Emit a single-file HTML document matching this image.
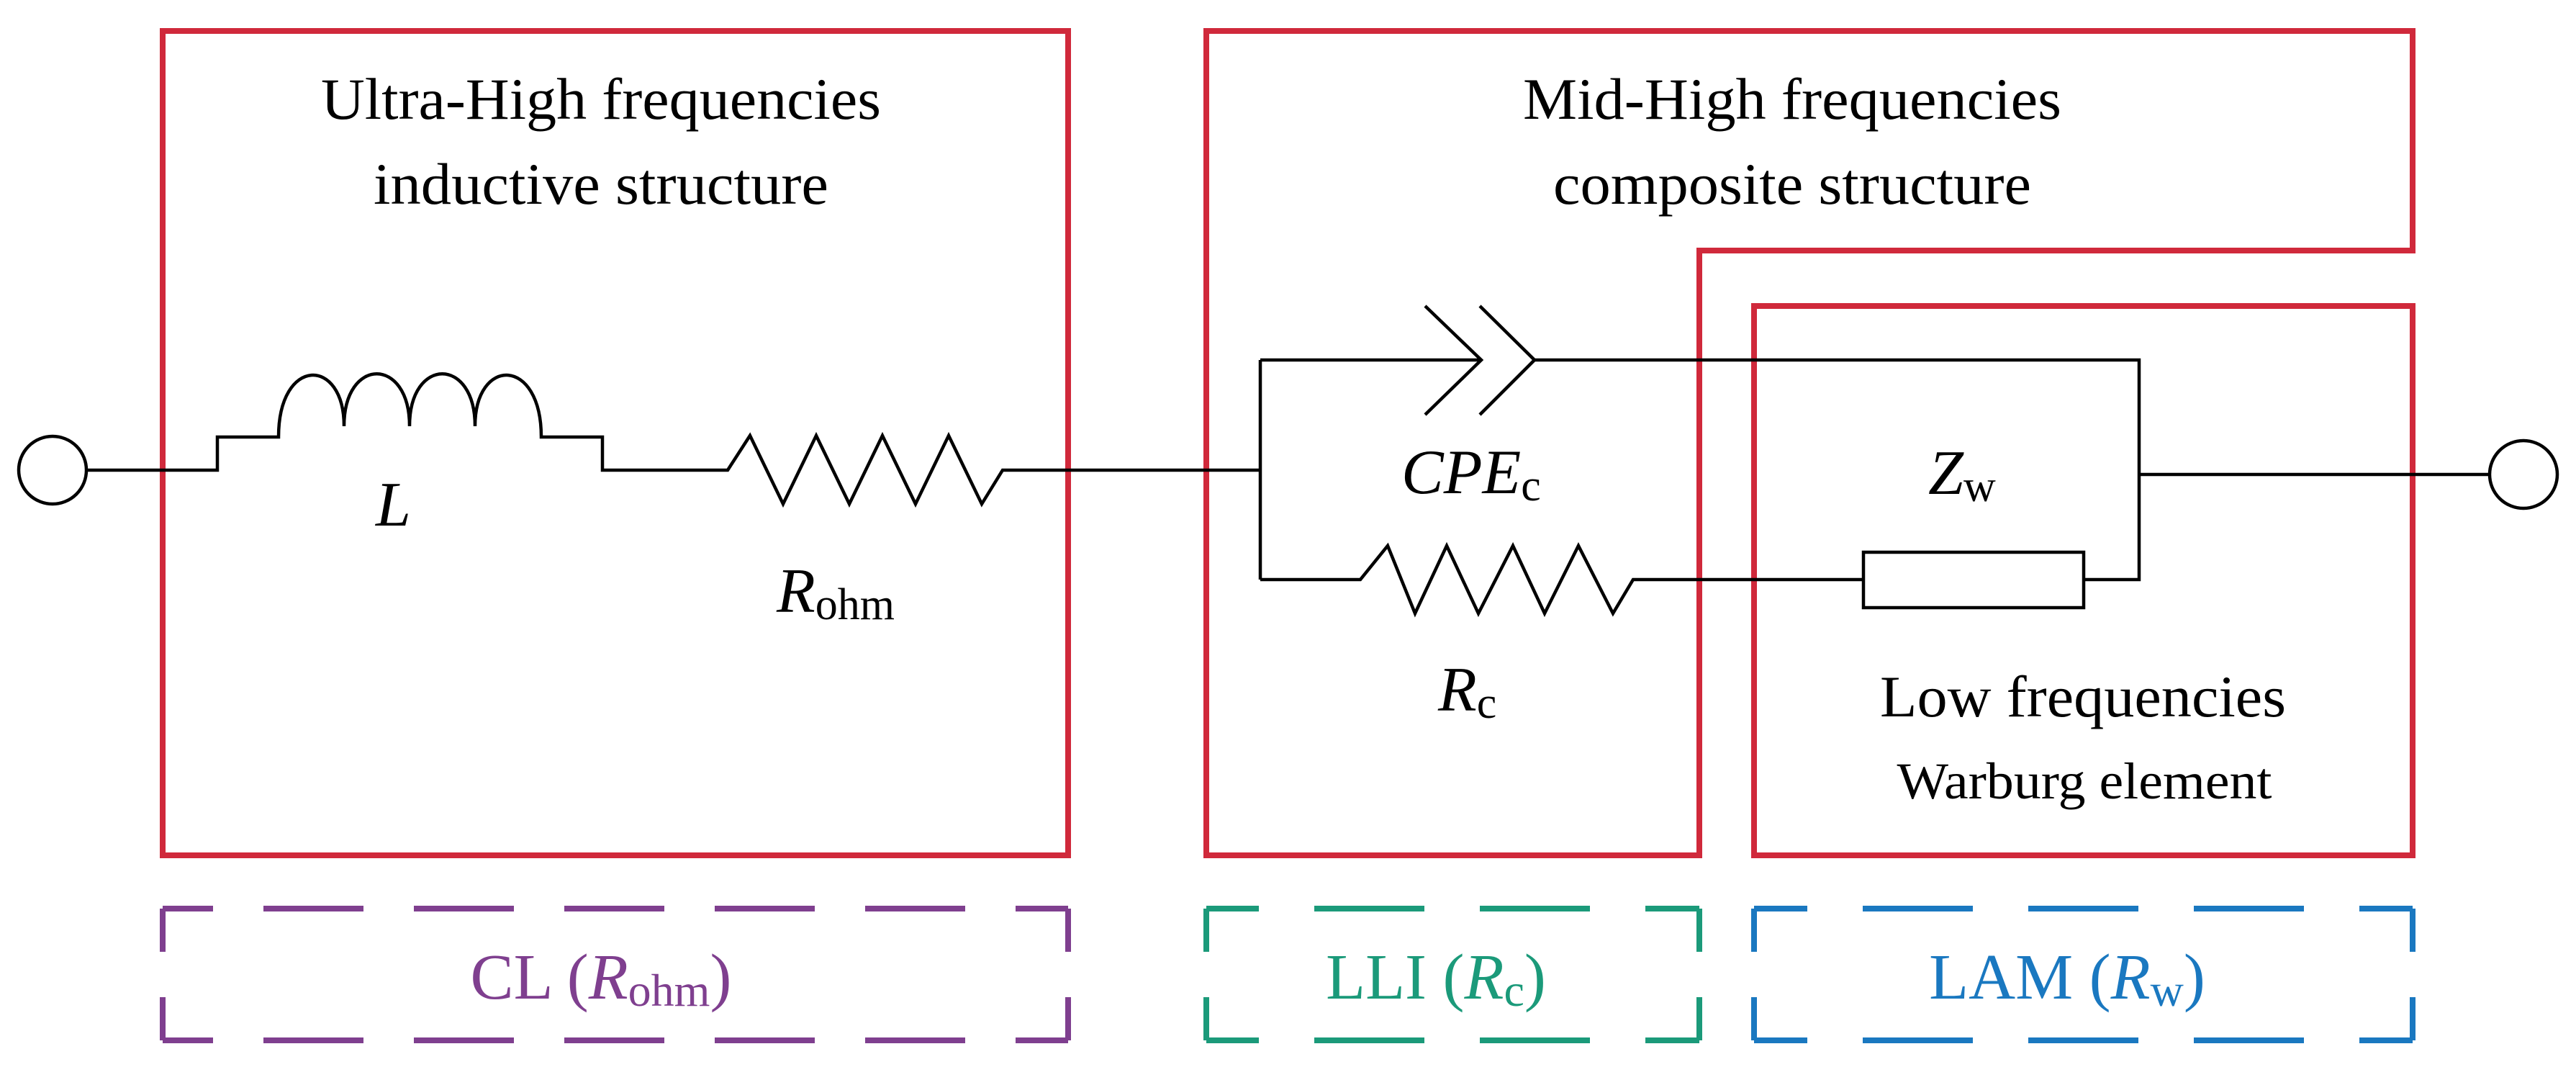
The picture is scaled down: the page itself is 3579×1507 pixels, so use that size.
<!DOCTYPE html>
<html><head><meta charset="utf-8"><style>
html,body{margin:0;padding:0;background:#fff;}
svg{display:block;}
text{font-family:"Liberation Serif",serif;}
</style></head><body>
<svg width="3579" height="1507" viewBox="0 0 3579 1507" xmlns="http://www.w3.org/2000/svg">
<rect width="3579" height="1507" fill="#fff"/>
<g fill="none" stroke="#d0293b" stroke-width="8">
<rect x="226" y="43" width="1258" height="1145"/>
<path d="M1676,43 L3352,43 L3352,348 L2361,348 L2361,1188 L1676,1188 Z"/>
<rect x="2437" y="425" width="915" height="763"/>
</g>
<g fill="none" stroke-width="8">
<g stroke="#7f3f8f">
<path d="M226,1262 H1484 M226,1445 H1484" stroke-dasharray="139 70" stroke-dashoffset="69"/>
<path d="M226,1262 V1322 M226,1385 V1445 M1484,1262 V1322 M1484,1385 V1445"/>
</g>
<g stroke="#1b9a7a">
<path d="M1676,1262 H2361 M1676,1445 H2361" stroke-dasharray="153 77" stroke-dashoffset="80"/>
<path d="M1676,1262 V1322 M1676,1385 V1445 M2361,1262 V1322 M2361,1385 V1445"/>
</g>
<g stroke="#1a78c0">
<path d="M2437,1262 H3352 M2437,1445 H3352" stroke-dasharray="153 77" stroke-dashoffset="79"/>
<path d="M2437,1262 V1322 M2437,1385 V1445 M3352,1262 V1322 M3352,1385 V1445"/>
</g>
</g>
<g fill="none" stroke="#000" stroke-width="4.5" stroke-linejoin="miter">
<circle cx="73" cy="653" r="47"/>
<circle cx="3506" cy="659" r="47"/>
<path d="M120,653 H302 V607 H387 C387,495 478,495 478,592 C478,495 569,495 569,592 C569,495 660,495 660,592 C660,495 752,495 752,607 H837 V653 H1011 L1042,605 L1088,700 L1134,605 L1180,700 L1226,605 L1272,700 L1318,605 L1364,700 L1393,653 H1751"/>
<path d="M1751,500 V805"/>
<path d="M1751,500 H2058 M1980,425 L2058,500 L1980,576 M2056,425 L2132,500 L2056,576 M2132,500 H2972 V805 H2895"/>
<path d="M1751,805 H1890 L1928,758 L1966,852 L2010,758 L2054,852 L2102,758 L2146,852 L2193,758 L2241,852 L2269,805 H2589"/>
<rect x="2589" y="767" width="306" height="77"/>
<path d="M2972,659 H3459"/>
</g>
<g fill="#000" font-size="82">
<text x="835" y="165" text-anchor="middle" textLength="778" lengthAdjust="spacingAndGlyphs">Ultra-High frequencies</text>
<text x="835" y="283" text-anchor="middle" textLength="632" lengthAdjust="spacingAndGlyphs">inductive structure</text>
<text x="2490" y="165" text-anchor="middle" textLength="748" lengthAdjust="spacingAndGlyphs">Mid-High frequencies</text>
<text x="2490" y="283" text-anchor="middle" textLength="664" lengthAdjust="spacingAndGlyphs">composite structure</text>
<text x="2894" y="995" text-anchor="middle" textLength="564" lengthAdjust="spacingAndGlyphs">Low frequencies</text>
<text x="2896" y="1109" text-anchor="middle" font-size="72" textLength="521" lengthAdjust="spacingAndGlyphs">Warburg element</text>
<text x="522" y="730" font-style="italic" font-size="88">L</text>
<text x="1079" y="850" font-size="88"><tspan font-style="italic">R</tspan><tspan font-size="62" dy="10">ohm</tspan></text>
<text x="1947" y="685" font-size="88"><tspan font-style="italic">CPE</tspan><tspan font-size="62" dy="10">c</tspan></text>
<text x="2679" y="686" font-size="88"><tspan font-style="italic">Z</tspan><tspan font-size="62" dy="10">w</tspan></text>
<text x="1998" y="987" font-size="88"><tspan font-style="italic">R</tspan><tspan font-size="62" dy="10">c</tspan></text>
</g>
<text x="835" y="1387" text-anchor="middle" font-size="90" fill="#7f3f8f">CL (<tspan font-style="italic">R</tspan><tspan font-size="64" dy="10">ohm</tspan><tspan dy="-10">)</tspan></text>
<text x="1995" y="1387" text-anchor="middle" font-size="90" fill="#1b9a7a">LLI (<tspan font-style="italic">R</tspan><tspan font-size="64" dy="10">c</tspan><tspan dy="-10">)</tspan></text>
<text x="2872" y="1387" text-anchor="middle" font-size="90" fill="#1a78c0">LAM (<tspan font-style="italic">R</tspan><tspan font-size="64" dy="10">w</tspan><tspan dy="-10">)</tspan></text>
</svg>
</body></html>
